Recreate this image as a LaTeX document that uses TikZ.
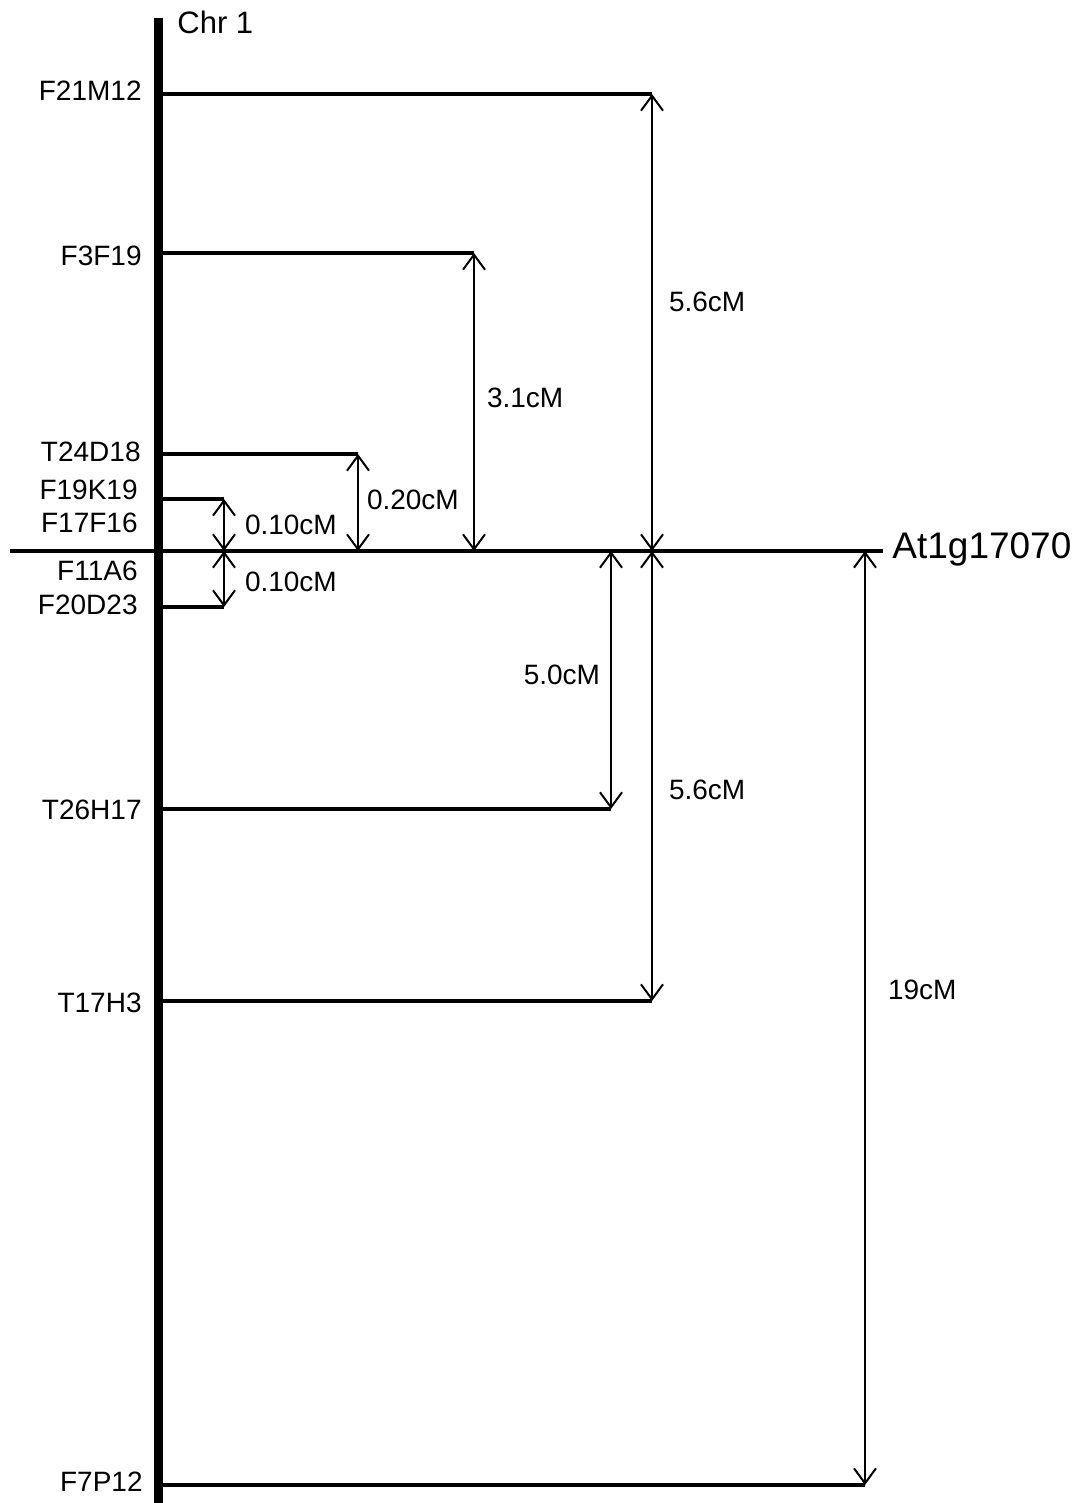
\documentclass[tikz,border=0pt]{standalone}
\usepackage{fontspec}
\setmainfont{Liberation Sans}
\usetikzlibrary{arrows.meta, positioning}
\tikzset{
  every picture/.style={x=0.5pt, y=-0.5pt},
  chrom/.style={line width=4.5pt},
  marker/.style={line width=2pt},
  gap/.style={{Straight Barb[length=7.5pt, width=11pt]}-{Straight Barb[length=7.5pt, width=11pt]}, line width=1pt},
  mlabel/.style={anchor=east, inner sep=0pt, font=\fontsize{14}{16}\selectfont},
  dist/.style={anchor=west, inner sep=0pt, font=\fontsize{14}{16}\selectfont},
  ldist/.style={dist, anchor=east},
}

\begin{document}
\begin{tikzpicture}
  \useasboundingbox (0,0) rectangle (1080,1503);

  % chromosome
  \coordinate (chrtop) at (158,18);
  \coordinate (chrbot) at (158,1503);
  \draw[chrom] (chrtop) -- (chrbot);
  \node[anchor=west, inner sep=0pt, font=\fontsize{15.5}{18}\selectfont] (chr) at (177,22) {Chr 1};

  % markers
  \foreach \n/\y/\e in {f21m12/94/652, f3f19/253/474, t24d18/454/358, f19k19/499/224,
                        f20d23/607/224, t26h17/809/611, t17h3/1001/652, f7p12/1485/865}
    \draw[marker] (162,\y) -- (\e,\y) coordinate (\n);

  \node[mlabel] (lf21m12) at (142,91) {F21M12};
  \node[mlabel] (lf3f19) at (142,256) {F3F19};
  \node[mlabel] (lt24d18) at (141,452) {T24D18};
  \node[mlabel] (lf19k19) at (138,490) {F19K19};
  \node[mlabel] (lf17f16) at (138,523) {F17F16};
  \node[mlabel] (lf11a6) at (138,571) {F11A6};
  \node[mlabel] (lf20d23) at (138,605) {F20D23};
  \node[mlabel] (lt26h17) at (142,810) {T26H17};
  \node[mlabel] (lt17h3) at (142,1003) {T17H3};
  \node[mlabel] (lf7p12) at (143,1482) {F7P12};

  % gene
  \coordinate (atl) at (10,551);
  \coordinate (atr) at (883,551);
  \draw[marker] (atl) -- (atr);
  \node[anchor=west, inner sep=0pt, font=\fontsize{18.5}{22}\selectfont] (gene) at (892,549) {At1g17070};

  % distances
  \draw[gap] (f21m12) -- (f21m12 |- atr) node[dist, pos=0.455, xshift=8pt] (d1) {5.6cM};
  \draw[gap] (f3f19) -- (f3f19 |- atr) node[dist, pos=0.485, xshift=6pt] (d2) {3.1cM};
  \draw[gap] (t24d18) -- (t24d18 |- atr) node[dist, pos=0.47, xshift=4pt] (d3) {0.20cM};
  \draw[gap] (f19k19) -- (f19k19 |- atr) node[dist, midway, xshift=10pt] (d4) {0.10cM};
  \draw[gap] (f20d23 |- atr) -- (f20d23) node[dist, pos=0.55, xshift=10pt] (d5) {0.10cM};
  \draw[gap] (t26h17 |- atr) -- (t26h17) node[ldist, pos=0.48, xshift=-5pt] (d6) {5.0cM};
  \draw[gap] (t17h3 |- atr) -- (t17h3) node[dist, pos=0.53, xshift=8pt] (d7) {5.6cM};
  \draw[gap] (f7p12 |- atr) -- (f7p12) node[dist, pos=0.47, xshift=11pt] (d8) {19cM};
\end{tikzpicture}
\end{document}
